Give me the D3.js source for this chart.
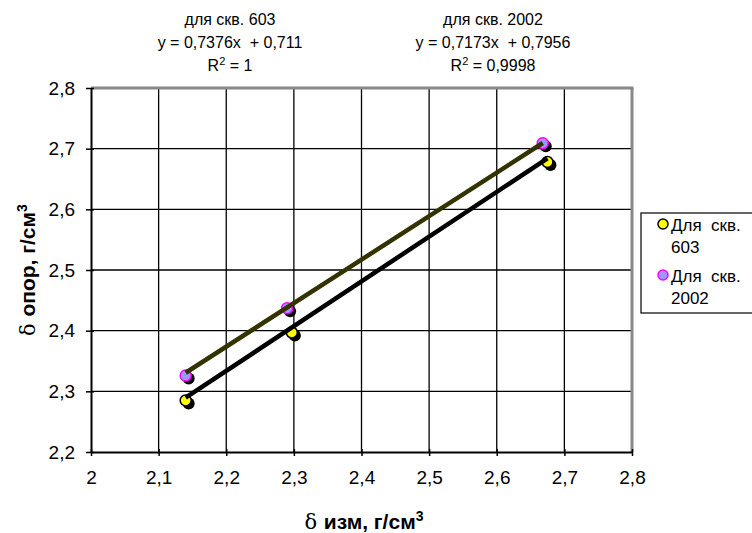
<!DOCTYPE html>
<html>
<head>
<meta charset="utf-8">
<script src="https://cdn.jsdelivr.net/npm/d3@7"></script>
<style>
  body { margin: 0; background: #fff; }
  svg { display: block; font-family: "Liberation Sans", Arial, sans-serif; }
  text { white-space: pre; }
</style>
</head>
<body>
<svg id="chart" width="752" height="533"></svg>
<script>
// Well 603 measurements
const x603 = [2.14, 2.297, 2.675];
const y603 = [2.285, 2.397, 2.678];
// Well 2002 measurements
const x2002 = [2.14, 2.29, 2.668];
const y2002 = [2.326, 2.437, 2.709];
// Trend line coefficients (slope, intercept)
const fit603 = [0.7376, 0.711];
const fit2002 = [0.7173, 0.7956];
const xTicks = [2, 2.1, 2.2, 2.3, 2.4, 2.5, 2.6, 2.7, 2.8];
const yTicks = [2.2, 2.3, 2.4, 2.5, 2.6, 2.7, 2.8];
const seriesNames = ["Для скв. 603", "Для скв. 2002"];

const svg = d3.select("#chart");
const L = 91, R = 632, T = 88, B = 452;
const x = d3.scaleLinear().domain([2, 2.8]).range([L, R]);
const y = d3.scaleLinear().domain([2.2, 2.8]).range([B, T]);
const fmt = d => String(+d.toFixed(1)).replace(".", ",");

// grid
const g = svg.append("g");
g.selectAll(".vg").data(xTicks.slice(1, -1)).enter().append("line")
  .attr("x1", d => x(d)).attr("x2", d => x(d)).attr("y1", T).attr("y2", B)
  .attr("stroke", "#000").attr("stroke-width", 1.3);
g.selectAll(".hg").data(yTicks.slice(1, -1)).enter().append("line")
  .attr("y1", d => y(d)).attr("y2", d => y(d)).attr("x1", L).attr("x2", R)
  .attr("stroke", "#000").attr("stroke-width", 1.3);

// plot frame (top and right in grey)
svg.append("line").attr("x1", L).attr("x2", R + 1.5).attr("y1", T).attr("y2", T)
  .attr("stroke", "#888").attr("stroke-width", 3);
svg.append("line").attr("x1", R).attr("x2", R).attr("y1", T).attr("y2", B)
  .attr("stroke", "#888").attr("stroke-width", 3);

// axes
const xAxis = d3.axisBottom(x).tickValues(xTicks).tickFormat(fmt).tickSize(5).tickSizeOuter(0);
const yAxis = d3.axisLeft(y).tickValues(yTicks).tickFormat(fmt).tickSize(5).tickSizeOuter(0);
const xa = svg.append("g").attr("transform", `translate(0,${B})`).call(xAxis);
const ya = svg.append("g").attr("transform", `translate(${L},0)`).call(yAxis);
[xa, ya].forEach(a => {
  a.select(".domain").attr("stroke", "#000").attr("stroke-width", 2);
  a.selectAll(".tick line").attr("stroke", "#000").attr("stroke-width", 1.5);
  a.selectAll("text").attr("font-size", 19).attr("fill", "#000")
    .attr("font-family", "Liberation Sans, Arial, sans-serif");
});
xa.selectAll(".tick line").attr("y1", -3).attr("y2", 4);
xa.selectAll("text").attr("dy", "0.71em").attr("y", 19);
ya.selectAll(".tick line").attr("x1", 3).attr("x2", -5);
ya.selectAll("text").attr("x", -16);

// trend lines
const trend = (xs, fit, color) => {
  const x0 = d3.min(xs), x1 = d3.max(xs);
  svg.append("line")
    .attr("x1", x(x0)).attr("y1", y(fit[0] * x0 + fit[1]))
    .attr("x2", x(x1)).attr("y2", y(fit[0] * x1 + fit[1]))
    .attr("stroke", color).attr("stroke-width", 4.5);
};

// markers with drop shadow
const markers = (xs, ys, fill, stroke) => {
  const pts = xs.map((v, i) => [v, ys[i]]);
  svg.append("g").selectAll("circle").data(pts).enter().append("circle")
    .attr("cx", d => x(d[0]) + 3).attr("cy", d => y(d[1]) + 3).attr("r", 6).attr("fill", "#000");
  svg.append("g").selectAll("circle").data(pts).enter().append("circle")
    .attr("cx", d => x(d[0])).attr("cy", d => y(d[1])).attr("r", 5.5)
    .attr("fill", fill).attr("stroke", stroke).attr("stroke-width", 1.5);
};

markers(x2002, y2002, "#9999ff", "#ff00ff");
markers(x603, y603, "#ffff00", "#000");
trend(x2002, fit2002, "#333300");
trend(x603, fit603, "#000");

// regression annotations
const ann = [
  { cx: 230, lines: ["для скв. 603", "y = 0,7376x  + 0,711"], r2: "1" },
  { cx: 493, lines: ["для скв. 2002", "y = 0,7173x  + 0,7956"], r2: "0,9998" }
];
ann.forEach(a => {
  const t = svg.append("g").attr("font-size", 16).attr("text-anchor", "middle");
  t.append("text").attr("x", a.cx).attr("y", 25).text(a.lines[0]);
  t.append("text").attr("x", a.cx).attr("y", 48).text(a.lines[1]);
  const r = t.append("text").attr("x", a.cx).attr("y", 71);
  r.append("tspan").text("R");
  r.append("tspan").attr("dy", -6).attr("font-size", 11).text("2");
  r.append("tspan").attr("dy", 6).text(" = " + a.r2);
});

// axis titles
const xt = svg.append("text").attr("x", 364).attr("y", 529).attr("text-anchor", "middle")
  .attr("font-size", 21).attr("font-weight", "bold");
xt.append("tspan").attr("font-family", "DejaVu Serif, serif").attr("font-weight", "normal").text("δ ");
xt.append("tspan").text("изм, г/см");
xt.append("tspan").attr("dy", -8).attr("font-size", 14).text("3");

const yt = svg.append("text").attr("transform", "translate(35,270) rotate(-90)")
  .attr("text-anchor", "middle").attr("font-size", 21).attr("font-weight", "bold");
yt.append("tspan").attr("font-family", "DejaVu Serif, serif").attr("font-weight", "normal").text("δ ");
yt.append("tspan").text("опор, г/см");
yt.append("tspan").attr("dy", -8).attr("font-size", 14).text("3");

// legend
const lg = svg.append("g");
lg.append("rect").attr("x", 641).attr("y", 213).attr("width", 120).attr("height", 100)
  .attr("fill", "#fff").attr("stroke", "#000").attr("stroke-width", 1.2);
const legendItems = [
  { name: seriesNames[0], fill: "#ffff00", stroke: "#000", y: 224 },
  { name: seriesNames[1], fill: "#9999ff", stroke: "#ff00ff", y: 275 }
];
legendItems.forEach(it => {
  lg.append("circle").attr("cx", 663).attr("cy", it.y).attr("r", 5)
    .attr("fill", it.fill).attr("stroke", it.stroke).attr("stroke-width", 1.5);
  const parts = it.name.split(" ");
  const tx = lg.append("text").attr("font-size", 17);
  tx.append("tspan").attr("x", 671).attr("y", it.y + 7).text(parts[0] + "  " + parts[1]);
  tx.append("tspan").attr("x", 671).attr("y", it.y + 29).text(parts[2]);
});
</script>
</body>
</html>
